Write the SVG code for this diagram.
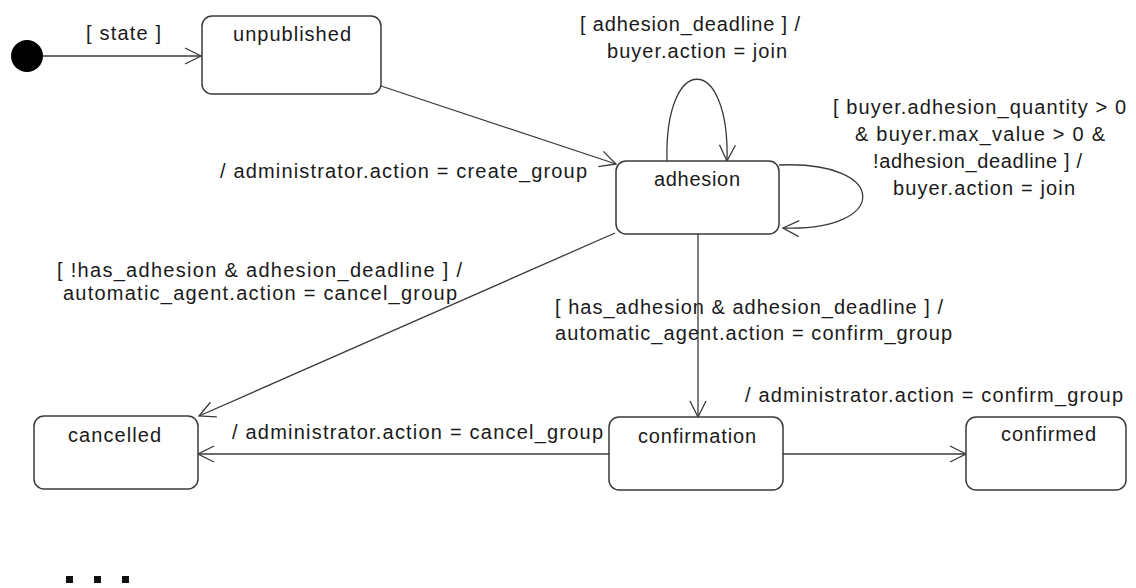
<svg xmlns="http://www.w3.org/2000/svg" width="1136" height="588" viewBox="0 0 1136 588">
  <style>
    .box { fill: #ffffff; stroke: #3a3a3a; stroke-width: 1.5; }
    .edge { fill: none; stroke: #3a3a3a; stroke-width: 1.3; }
    .lbl { font-family: "Liberation Sans", Arial, sans-serif; font-size: 20px; fill: #1a1a1a; }
    .dot { fill: #111111; }
  </style>
  <defs>
    <marker id="open" markerUnits="userSpaceOnUse" markerWidth="24" markerHeight="24" viewBox="-20 -12 24 24" refX="0" refY="0" orient="auto" overflow="visible">
      <path d="M-16,-8 L0,0 L-16,8" fill="none" stroke="#3a3a3a" stroke-width="1.3"/>
    </marker>
  </defs>

  <rect width="1136" height="588" fill="#ffffff"/>

  <!-- transitions -->
  <g id="connectors">
    <line class="edge" x1="43" y1="56" x2="201" y2="56" marker-end="url(#open)"/>
    <line class="edge" x1="381" y1="86" x2="616" y2="164" marker-end="url(#open)"/>
    <path class="edge" d="M667,161 C664,52 730,52 727,161" marker-end="url(#open)"/>
    <path class="edge" d="M779,165 C890,160 890,232 783,228" marker-end="url(#open)"/>
    <line class="edge" x1="615" y1="233" x2="199" y2="416" marker-end="url(#open)"/>
    <line class="edge" x1="698" y1="234" x2="698" y2="417" marker-end="url(#open)"/>
    <line class="edge" x1="609" y1="454" x2="198" y2="454" marker-end="url(#open)"/>
    <line class="edge" x1="783" y1="454" x2="966" y2="454" marker-end="url(#open)"/>

    <text class="lbl" x="86" y="40" textLength="75" lengthAdjust="spacing">[ state ]</text>
    <text class="lbl" x="580" y="31" textLength="220" lengthAdjust="spacing">[ adhesion_deadline ] /</text>
    <text class="lbl" x="607" y="58" textLength="180" lengthAdjust="spacing">buyer.action = join</text>
    <text class="lbl" x="833" y="114" textLength="293" lengthAdjust="spacing">[ buyer.adhesion_quantity &gt; 0</text>
    <text class="lbl" x="855" y="141" textLength="250" lengthAdjust="spacing">&amp; buyer.max_value &gt; 0 &amp;</text>
    <text class="lbl" x="873" y="168" textLength="209" lengthAdjust="spacing">!adhesion_deadline ] /</text>
    <text class="lbl" x="893" y="195" textLength="182" lengthAdjust="spacing">buyer.action = join</text>
    <text class="lbl" x="220" y="178" textLength="367" lengthAdjust="spacing">/ administrator.action = create_group</text>
    <text class="lbl" x="57" y="277" textLength="405" lengthAdjust="spacing">[ !has_adhesion &amp; adhesion_deadline ] /</text>
    <text class="lbl" x="63" y="300" textLength="394" lengthAdjust="spacing">automatic_agent.action = cancel_group</text>
    <text class="lbl" x="555" y="314" textLength="388" lengthAdjust="spacing">[ has_adhesion &amp; adhesion_deadline ] /</text>
    <text class="lbl" x="555" y="340" textLength="397" lengthAdjust="spacing">automatic_agent.action = confirm_group</text>
    <text class="lbl" x="745" y="402" textLength="378" lengthAdjust="spacing">/ administrator.action = confirm_group</text>
    <text class="lbl" x="232" y="439" textLength="371" lengthAdjust="spacing">/ administrator.action = cancel_group</text>
  </g>

  <!-- initial pseudostate -->
  <g id="initial">
    <circle cx="27" cy="56" r="16" fill="#000000"/>
  </g>

  <g id="unpublished">
    <rect class="box" x="202" y="16" width="179" height="78" rx="10"/>
    <text class="lbl" x="233" y="41" textLength="118" lengthAdjust="spacing">unpublished</text>
  </g>

  <g id="adhesion">
    <rect class="box" x="616" y="161" width="163" height="73" rx="10"/>
    <text class="lbl" x="654" y="186" textLength="86" lengthAdjust="spacing">adhesion</text>
  </g>

  <g id="cancelled">
    <rect class="box" x="34" y="416" width="164" height="73" rx="10"/>
    <text class="lbl" x="68" y="442" textLength="93" lengthAdjust="spacing">cancelled</text>
  </g>

  <g id="confirmation">
    <rect class="box" x="609" y="417" width="174" height="73" rx="10"/>
    <text class="lbl" x="638" y="443" textLength="118" lengthAdjust="spacing">confirmation</text>
  </g>

  <g id="confirmed">
    <rect class="box" x="966" y="417" width="160" height="73" rx="10"/>
    <text class="lbl" x="1001" y="441" textLength="95" lengthAdjust="spacing">confirmed</text>
  </g>

  <!-- trailing ellipsis marks -->
  <g id="ellipsis">
    <rect class="dot" x="66" y="576" width="7" height="7"/>
    <rect class="dot" x="94" y="576" width="7" height="7"/>
    <rect class="dot" x="122" y="576" width="7" height="7"/>
  </g>
</svg>
